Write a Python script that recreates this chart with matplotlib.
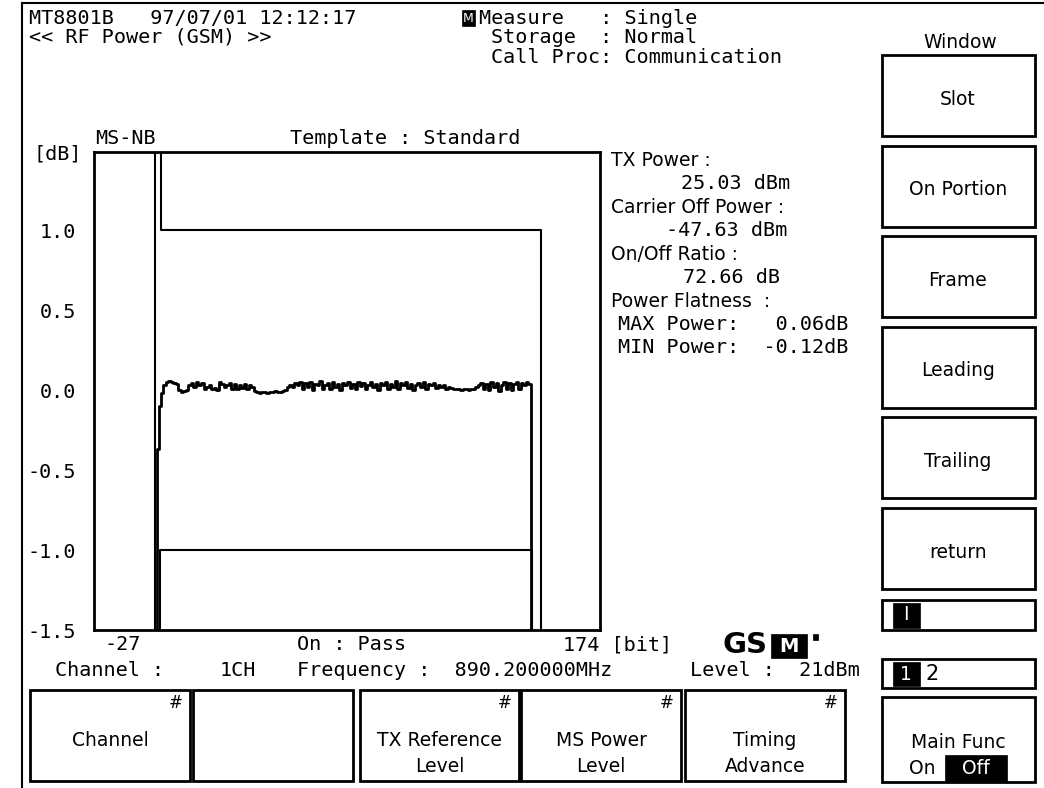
import matplotlib
matplotlib.use("Agg")
import matplotlib.pyplot as plt
from matplotlib.patches import Rectangle

# ---------------- data ----------------
y_ticks = [1.0, 0.5, 0.0, -0.5, -1.0, -1.5]
y_tick_labels = ["1.0", "0.5", "0.0", "-0.5", "-1.0", "-1.5"]
x_range = [-27, 174]

# upper template (bits, dB)
upper_bits = [-2.8, -2.8, -0.4, -0.4, 150.6, 150.6]
upper_db = [-1.6, 1.6, 1.6, 1.0, 1.0, -1.6]
# lower template
lower_bits = [-0.6, -0.6, 147.0, 147.0]
lower_db = [-1.6, -1.0, -1.0, -1.6]

# measured trace (bits, dB)
ramp_up_bits = [-2.5, -1.5, -0.8]
ramp_up_db = [-1.6, -0.37, -0.1]
on_bits = list(range(0, 147))
on_db = [-0.02, 0.03,
         0.05, 0.055, 0.05, 0.045, 0.04,
         0.0, -0.01, -0.005, 0.0,
         0.035, 0.045, 0.02, 0.05, 0.03,
         0.045, 0.01, 0.02, 0.03, 0.005, 0.015, 0.0,
         0.05, 0.04, 0.02, 0.035,
         0.045, 0.01, 0.04, 0.005, 0.035, 0.015, 0.04, 0.01, 0.03, 0.02,
         -0.005, -0.01, -0.015, -0.012, -0.01, -0.015, -0.01, -0.012, -0.008, -0.012, -0.01, -0.005,
         0.0, 0.02, 0.035, 0.02, 0.045, 0.03, 0.05,
         0.01, 0.045, 0.02, 0.05, 0.0, 0.04, 0.03, 0.055, 0.01, 0.035,
         0.045, 0.005, 0.05, 0.02, 0.04, 0.0, 0.045, 0.03, 0.05, 0.015,
         0.04, 0.005, 0.05, 0.025, 0.045, 0.01, 0.035, 0.05, 0.02, 0.04,
         0.0, 0.045, 0.03, 0.05, 0.01, 0.04, 0.02, 0.055, 0.005, 0.045,
         0.03, 0.05, 0.015, 0.04, 0.0, 0.035, 0.045, 0.02, 0.05, 0.01,
         0.04, 0.03, 0.045, 0.015, 0.035, 0.02, 0.03, 0.01, 0.02, 0.015,
         0.01, 0.005, 0.008, 0.004, 0.01, 0.006, 0.003, 0.008, 0.01, 0.02, 0.03,
         0.045, 0.01, 0.04, 0.0, 0.05, 0.02, 0.045, -0.005, 0.035, 0.05,
         0.01, 0.045, 0.0, 0.04, 0.05, 0.005, 0.045, 0.03, 0.05, 0.04]
ramp_down_bits = [147.3]
ramp_down_db = [-1.6]

W, H = 1044, 788
SANS = "DejaVu Sans"
MONO = "DejaVu Sans Mono"
FM = 14.5   # mono size
FSn = 13.5  # sans size

fig = plt.figure(figsize=(W / 100, H / 100), dpi=100)
fig.patch.set_facecolor("white")
ov = fig.add_axes([0, 0, 1, 1])
ov.set_xlim(0, W)
ov.set_ylim(H, 0)
ov.axis("off")


def t(x, y, s, ha="left", size=FM, color="black", family=MONO, **kw):
    ov.text(x, y, s, ha=ha, va="center", fontsize=size, family=family, color=color, **kw)


def ts(x, y, s, ha="center", size=FSn, color="black", **kw):
    t(x, y, s, ha=ha, size=size, color=color, family=SANS, **kw)


def box(x0, y0, x1, y1, lw=2.0, fc="none", ec="black"):
    ov.add_patch(Rectangle((x0, y0), x1 - x0, y1 - y0, fill=(fc != "none"),
                           facecolor=fc if fc != "none" else "white", edgecolor=ec, lw=lw))


# screen frame
ov.plot([22, 22], [3, 788], color="black", lw=1.5)
ov.plot([22, 1044], [3, 3], color="black", lw=1.5)

# header
t(29, 18, "MT8801B   97/07/01 12:12:17")
t(29, 37, "<< RF Power (GSM) >>")
box(462, 10, 475, 26, lw=0.5, fc="black")
ts(468.5, 18, "M", size=9, color="white")
t(479, 18, "Measure   : Single")
t(491, 37, "Storage  : Normal")
t(491, 57, "Call Proc: Communication")

# plot headers
t(95, 138, "MS-NB")
t(290, 138, "Template : Standard")
t(33, 154, "[dB]")

# data axes
L, R, T, B = 94, 600, 152, 630
ax = fig.add_axes([L / W, 1 - B / H, (R - L) / W, (B - T) / H])
ax.set_xlim(*x_range)
ax.set_ylim(-1.5, 1.49)
ax.set_xticks([])
ax.set_yticks(y_ticks)
ax.set_yticklabels(y_tick_labels, family=MONO, fontsize=FM)
ax.tick_params(axis="y", length=0, pad=13)
for sp in ax.spines.values():
    sp.set_linewidth(2.0)
ax.plot(upper_bits, upper_db, color="black", lw=1.5)
ax.plot(lower_bits, lower_db, color="black", lw=1.5)
ax.plot(ramp_up_bits + on_bits + ramp_down_bits,
        ramp_up_db + on_db + ramp_down_db,
        color="black", lw=2.0, drawstyle="steps-mid")

# below the plot
t(104, 645, "-27")
t(297, 645, "On : Pass")
t(563, 645, "174 [bit]")
t(55, 670, "Channel :")
t(220, 670, "1CH")
t(297, 670, "Frequency :  890.200000MHz")
t(690, 670, "Level :  21dBm")

# GSM logo
ov.text(722, 645, "GS", ha="left", va="center", fontsize=21, fontweight="bold",
        family=SANS)
box(771, 634, 807, 658, lw=0.5, fc="black")
ts(789, 646, "M", size=14, color="white", fontweight="bold")
box(813, 634, 818, 640, lw=0.5, fc="black")

# right info panel
ts(611, 160, "TX Power :", ha="left")
t(681, 183, "25.03 dBm")
ts(611, 207, "Carrier Off Power :", ha="left")
t(666, 230, "-47.63 dBm")
ts(611, 254, "On/Off Ratio :", ha="left")
t(683, 277, "72.66 dB")
ts(611, 301, "Power Flatness  :", ha="left")
t(618, 324, "MAX Power:   0.06dB")
t(618, 347, "MIN Power:  -0.12dB")

# right soft keys
ts(960, 42, "Window")
labels_r = ["Slot", "On Portion", "Frame", "Leading", "Trailing", "return"]
for i, lab in enumerate(labels_r):
    y0 = 55 + i * 90.6
    box(882, y0, 1035, y0 + 81)
    ts(958, y0 + 44, lab)

box(882, 600, 1035, 630)
box(893, 603, 920, 628, lw=0.5, fc="black")
ts(906, 615, "I", color="white")
box(882, 659, 1035, 688)
box(893, 662, 920, 686, lw=0.5, fc="black")
ts(906, 674, "1", color="white")
ts(932, 674, "2", size=15)
box(882, 697, 1035, 782)
ts(958, 742, "Main Func")
box(945, 755, 1007, 781, lw=0.5, fc="black")
ts(922, 768, "On")
ts(976, 768, "Off", color="white")

# bottom soft keys
bkeys = [(30, 190, ["Channel"], True), (193, 353, [], False),
         (360, 519, ["TX Reference", "Level"], True),
         (521, 681, ["MS Power", "Level"], True),
         (685, 845, ["Timing", "Advance"], True)]
for x0, x1, labs, hash_ in bkeys:
    box(x0, 690, x1, 781)
    if hash_:
        ts(x1 - 14, 703, "#", size=12)
    cx = (x0 + x1) / 2
    if len(labs) == 1:
        ts(cx, 740, labs[0])
    elif len(labs) == 2:
        ts(cx, 740, labs[0])
        ts(cx, 767, labs[1])

fig.savefig("out.png", dpi=100)
